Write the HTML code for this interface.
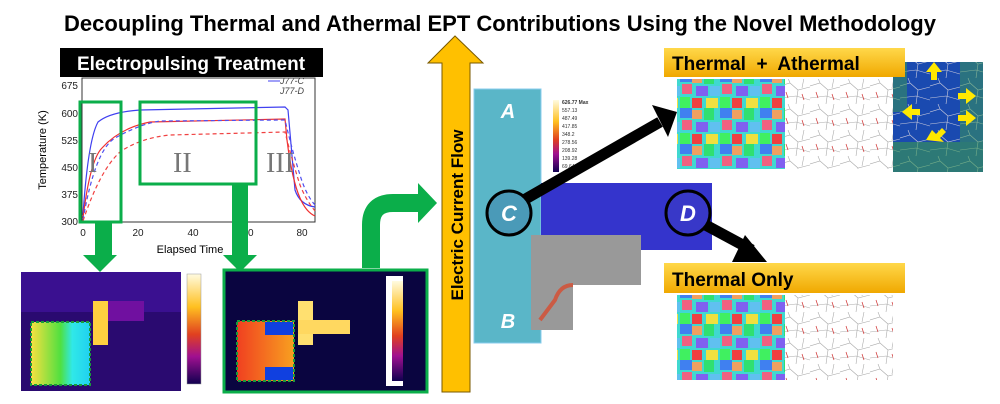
<!DOCTYPE html>
<html><head><meta charset="utf-8"><style>
html,body{margin:0;padding:0;background:#fff;width:1000px;height:404px;overflow:hidden}
svg{display:block;font-family:"Liberation Sans",sans-serif}
</style></head><body>
<svg width="1000" height="404" viewBox="0 0 1000 404" xmlns="http://www.w3.org/2000/svg">
<defs>
<linearGradient id="yl" x1="0" y1="0" x2="0" y2="1"><stop offset="0" stop-color="#ffd84a"/><stop offset="1" stop-color="#f0a800"/></linearGradient>
<linearGradient id="cb1" x1="0" y1="0" x2="0" y2="1"><stop offset="0" stop-color="#fffbe0"/><stop offset="0.3" stop-color="#ffc020"/><stop offset="0.55" stop-color="#e04020"/><stop offset="0.75" stop-color="#a01090"/><stop offset="1" stop-color="#100050"/></linearGradient>
<linearGradient id="hot1" x1="0" y1="0" x2="1" y2="0"><stop offset="0" stop-color="#f8e040"/><stop offset="0.5" stop-color="#50e040"/><stop offset="0.7" stop-color="#30e8e8"/><stop offset="1" stop-color="#20d0f0"/></linearGradient>
<linearGradient id="hot2" x1="0" y1="0" x2="1" y2="0"><stop offset="0" stop-color="#f04020"/><stop offset="1" stop-color="#f8a020"/></linearGradient>
<pattern id="grain" width="40" height="36" patternUnits="userSpaceOnUse">
<rect width="40" height="36" fill="#40d8d0"/>
<rect x="0" y="0" width="12" height="10" fill="#4080f0"/><rect x="12" y="2" width="10" height="9" fill="#f0a060"/>
<rect x="24" y="0" width="10" height="12" fill="#30e070"/><rect x="2" y="12" width="10" height="10" fill="#f06080"/>
<rect x="16" y="14" width="12" height="10" fill="#8060f0"/><rect x="30" y="14" width="10" height="10" fill="#60c0f0"/>
<rect x="0" y="25" width="10" height="11" fill="#40f060"/><rect x="12" y="26" width="10" height="10" fill="#f04040"/>
<rect x="26" y="26" width="12" height="10" fill="#f0e040"/>
</pattern>
<pattern id="kam" width="30" height="26" patternUnits="userSpaceOnUse">
<rect width="30" height="26" fill="#fff"/>
<path d="M0,8 L10,5 L18,12 L30,9 M10,5 L8,0 M18,12 L16,26 M0,20 L16,18 L30,22 M24,0 L22,10" fill="none" stroke="#aaa" stroke-width="0.6"/>
<path d="M6,14 L8,20 M22,16 L24,22" stroke="#d03030" stroke-width="0.7"/>
</pattern>
<pattern id="bl" width="30" height="26" patternUnits="userSpaceOnUse">
<rect width="30" height="26" fill="#1a4ab0"/>
<path d="M0,8 L10,5 L18,12 L30,9 M10,5 L8,0 M18,12 L16,26 M0,20 L16,18 L30,22" fill="none" stroke="#ccd" stroke-width="0.6"/>
</pattern>
</defs>

<text x="500" y="31" text-anchor="middle" font-size="22" font-weight="bold" fill="#000">Decoupling Thermal and Athermal EPT Contributions Using the Novel Methodology</text>

<rect x="82" y="78" width="233" height="144" fill="#fff" stroke="#333" stroke-width="1"/>
<g font-size="10" fill="#222" text-anchor="end">
<text x="78" y="89">675</text><text x="78" y="117">600</text><text x="78" y="144">525</text><text x="78" y="171">450</text><text x="78" y="198">375</text><text x="78" y="225">300</text></g>
<g font-size="10" fill="#222" text-anchor="middle">
<text x="83" y="236">0</text><text x="138" y="236">20</text><text x="193" y="236">40</text><text x="248" y="236">60</text><text x="302" y="236">80</text></g>
<text x="190" y="253" font-size="11" text-anchor="middle">Elapsed Time</text>
<text transform="translate(46,150) rotate(-90)" font-size="11" text-anchor="middle">Temperature (K)</text>
<g fill="none" stroke-width="1.2">
<path d="M83,215 Q88,140 98,122 Q110,112 140,110 L285,107 L288,110 L295,190 Q300,205 315,207" stroke="#4040f0"/>
<path d="M83,218 Q90,160 102,148 Q120,128 150,122 L285,119 L287,140 Q292,180 300,198 Q306,212 315,216" stroke="#f03030"/>
<path d="M83,220 Q95,150 115,138 Q140,124 160,121 L285,120 Q292,150 300,175 Q306,195 315,205" stroke="#5050f0" stroke-dasharray="4,3"/>
<path d="M83,221 Q100,170 120,152 Q140,138 170,135 L285,132 Q292,160 300,185 Q306,200 315,211" stroke="#f04040" stroke-dasharray="4,3"/>
</g>
<text x="280" y="84" font-size="9" font-style="italic" fill="#444">J77-C</text>
<line x1="268" y1="81" x2="280" y2="81" stroke="#4040f0"/>
<text x="280" y="94" font-size="9" font-style="italic" fill="#444">J77-D</text>
<g font-family="Liberation Serif,serif" font-size="28" fill="#777"><text x="88" y="172">I</text><text x="173" y="172">II</text><text x="266" y="172">III</text></g>
<rect x="60" y="48" width="263" height="29" fill="#000"/>
<text x="191" y="70" font-size="19" font-weight="bold" fill="#fff" text-anchor="middle">Electropulsing Treatment</text>
<rect x="80" y="102" width="41" height="120" fill="none" stroke="#0bae4a" stroke-width="3"/>
<rect x="140" y="102" width="116" height="82" fill="none" stroke="#0bae4a" stroke-width="3"/>
<polygon points="95,222 112,222 112,255 117,255 100,272 83,255 95,255" fill="#0bae4a"/>
<polygon points="232,184 248,184 248,255 257,255 240,272 223,255 232,255" fill="#0bae4a"/>

<rect x="21" y="272" width="160" height="119" fill="#2a0a70"/>
<rect x="21" y="272" width="160" height="40" fill="#3a1090"/>
<rect x="96" y="301" width="48" height="20" fill="#7010a0"/>
<rect x="93" y="301" width="15" height="44" fill="#ffd040"/>
<rect x="31" y="322" width="59" height="63" fill="url(#hot1)" stroke="#1a9a3a" stroke-width="2" stroke-dasharray="3,2"/>
<rect x="187" y="274" width="14" height="110" fill="url(#cb1)" stroke="#999" stroke-width="0.5"/>
<rect x="224" y="270" width="203" height="122" fill="#0a0540" stroke="#0bae4a" stroke-width="3"/>
<rect x="386" y="276" width="17" height="110" fill="#fff"/>
<rect x="392" y="281" width="11" height="100" fill="url(#cb1)"/>
<rect x="298" y="301" width="15" height="44" fill="#ffe070"/>
<rect x="298" y="320" width="52" height="14" fill="#ffd860"/>
<rect x="237" y="321" width="57" height="60" fill="url(#hot2)" stroke="#1a9a3a" stroke-width="2" stroke-dasharray="3,2"/>
<rect x="265" y="322" width="28" height="13" fill="#1040e0"/>
<rect x="265" y="367" width="28" height="13" fill="#1040e0"/>

<path d="M371,268 L371,225 Q371,203 393,203 L420,203" fill="none" stroke="#0bae4a" stroke-width="18"/>
<polygon points="418,183 437,203 418,223" fill="#0bae4a"/>

<polygon points="442,392 442,63 428,63 455,36 483,63 470,63 470,392" fill="#ffc000" stroke="#7a5a00" stroke-width="1"/>
<text transform="translate(463,215) rotate(-90)" font-size="17" font-weight="bold" text-anchor="middle">Electric Current Flow</text>

<rect x="474" y="89" width="67" height="254" fill="#5ab6c8" stroke="#8ce" stroke-width="1"/>
<rect x="541" y="183" width="171" height="67" fill="#3434cc"/>
<rect x="531" y="235" width="110" height="50" fill="#999"/>
<rect x="531" y="285" width="42" height="45" fill="#999"/>
<path d="M573,285 Q560,285 555,300 L540,320" fill="none" stroke="#e04020" stroke-width="4" opacity="0.7"/>
<rect x="553" y="100" width="6" height="72" fill="url(#cb1)"/>
<g font-size="5" fill="#333"><text x="562" y="104" font-weight="bold">626.77 Max</text><text x="562" y="112">557.13</text><text x="562" y="120">487.49</text><text x="562" y="128">417.85</text><text x="562" y="136">348.2</text><text x="562" y="144">278.56</text><text x="562" y="152">208.92</text><text x="562" y="160">139.28</text><text x="562" y="168">69.64</text></g>
<g font-size="20" font-weight="bold" font-style="italic" fill="#fff" text-anchor="middle"><text x="508" y="118">A</text><text x="508" y="328">B</text></g>
<line x1="515" y1="205" x2="660" y2="122" stroke="#000" stroke-width="11"/>
<polygon points="652,105 677,112 668,137" fill="#000"/>
<line x1="700" y1="222" x2="752" y2="250" stroke="#000" stroke-width="11"/>
<polygon points="745,235 767,262 732,262" fill="#000"/>
<circle cx="509" cy="213" r="22" fill="#4a9ab8" stroke="#000" stroke-width="3"/>
<circle cx="688" cy="213" r="22" fill="#3838c8" stroke="#000" stroke-width="3"/>
<g font-size="22" font-weight="bold" font-style="italic" fill="#fff" text-anchor="middle"><text x="509" y="221">C</text><text x="688" y="221">D</text></g>

<rect x="677" y="79" width="108" height="90" fill="url(#grain)"/>
<rect x="785" y="79" width="108" height="90" fill="url(#kam)"/>
<rect x="893" y="62" width="90" height="110" fill="url(#bl)"/>
<rect x="893" y="142" width="90" height="30" fill="#3a9a50" opacity="0.6"/>
<rect x="893" y="62" width="14" height="50" fill="#3a9a50" opacity="0.5"/>
<rect x="960" y="62" width="23" height="80" fill="#3a9a50" opacity="0.5"/>
<g fill="#ffe800"><polygon points="934,62 926,72 931,72 931,80 937,80 937,72 942,72"/><polygon points="902,112 912,104 912,109 920,109 920,115 912,115 912,120"/><polygon points="976,118 966,110 966,115 958,115 958,121 966,121 966,126"/><polygon points="976,96 966,88 966,93 958,93 958,99 966,99 966,104"/><polygon points="926,140 932,130 936,134 942,128 946,132 940,138 944,142"/></g>
<rect x="664" y="48" width="241" height="29" fill="url(#yl)"/>
<text x="672" y="70" font-size="19" font-weight="bold" xml:space="preserve">Thermal  +  Athermal</text>
<rect x="677" y="295" width="108" height="85" fill="url(#grain)"/>
<rect x="785" y="295" width="108" height="85" fill="url(#kam)"/>
<rect x="664" y="263" width="241" height="30" fill="url(#yl)"/>
<text x="672" y="286" font-size="19" font-weight="bold">Thermal Only</text>
</svg>
</body></html>
